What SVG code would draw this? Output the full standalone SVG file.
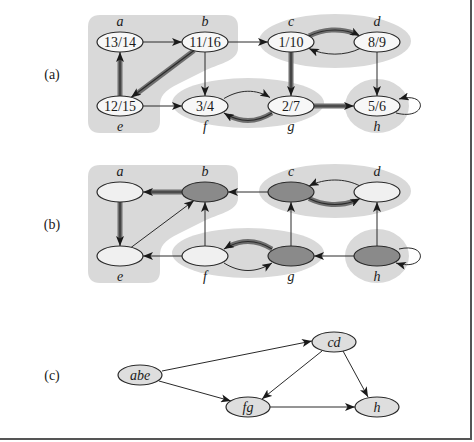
<svg xmlns="http://www.w3.org/2000/svg" width="474" height="442" viewBox="0 0 474 442">
<style>
.reg{fill:#d9d9d9;stroke:none}
.nd{fill:#f7f7f7;stroke:#2a2a2a;stroke-width:1.2}
.dk{fill:#8a8a8a;stroke:#2a2a2a;stroke-width:1.2}
.lt{fill:#f0f0f0;stroke:#2a2a2a;stroke-width:1.2}
.cn{fill:#dedede;stroke:#2a2a2a;stroke-width:1.2}
.t{font-family:"Liberation Serif","Times New Roman",serif;font-size:14px;fill:#1a1a1a;text-anchor:middle}
.it{font-family:"Liberation Serif","Times New Roman",serif;font-style:italic;font-size:14px;fill:#1a1a1a;text-anchor:middle}
.e{fill:none;stroke:#2a2a2a;stroke-width:1;marker-end:url(#ah)}
.h{fill:none;stroke:#6e6e6e;stroke-width:5}
.hi{fill:none;stroke:#2a2a2a;stroke-width:1.2;marker-end:url(#ah)}
</style>
<defs>
<marker id="ah" markerUnits="userSpaceOnUse" viewBox="0 0 10 8" markerWidth="10" markerHeight="8" refX="10" refY="4" orient="auto">
<path d="M0,0 L10,4 L0,8 L2.5,4 Z" fill="#1a1a1a"/>
</marker>
<path id="rabe" d="M100,15 L226,15 Q238,15 238,27 L238,48 C238,60 222,63 206,70 L178,84 C164,91 160,96 160,106 L160,121 Q160,133 148,133 L100,133 Q88,133 88,121 L88,27 Q88,15 100,15 Z"/>
</defs>

<g id="frame"><path d="M471,0 V439 H0" fill="none" stroke="#555" stroke-width="2"/></g>

<!-- panel labels -->
<text class="t" x="52" y="79">(a)</text>
<text class="t" x="52" y="229">(b)</text>
<text class="t" x="52" y="380">(c)</text>

<!-- regions (a) -->
<g id="regions-a">
<use href="#rabe" class="reg"/>
<ellipse class="reg" cx="335" cy="41" rx="76" ry="27"/>
<ellipse class="reg" cx="248" cy="103" rx="76" ry="25"/>
<ellipse class="reg" cx="377" cy="106" rx="32" ry="27"/>
</g>
<!-- regions (b) -->
<g id="regions-b" transform="translate(0,150)">
<use href="#rabe" class="reg"/>
<ellipse class="reg" cx="335" cy="41" rx="76" ry="27"/>
<ellipse class="reg" cx="248" cy="103" rx="76" ry="25"/>
<ellipse class="reg" cx="377" cy="106" rx="32" ry="27"/>
</g>

<!-- connectors (a) -->
<g id="edges-a">
<path class="e" d="M143,42 L182,42"/>
<path class="e" d="M228,42 L268,42"/>
<path class="h" d="M194,50.5 L137,93.5"/>
<path class="hi" d="M194,50.5 L131,97.5"/>
<path class="h" d="M120,96 L120,59"/>
<path class="hi" d="M120,96 L120,52"/>
<path class="e" d="M205,52 L205,96"/>
<path class="e" d="M143,106 L182,106"/>
<path class="e" d="M224,98.5 C240,89 256,89 270,97.5"/>
<path class="h" d="M272,113 C256,123 240,123 224,113" pathLength="100" stroke-dasharray="88 20"/>
<path class="hi" d="M272,113 C256,123 240,123 224,113"/>
<path class="h" d="M309,36 C325,28 345,28 360,36" pathLength="100" stroke-dasharray="88 20"/>
<path class="hi" d="M309,36 C325,28 345,28 360,36"/>
<path class="e" d="M360,48.5 C345,56 325,56 309,48.5"/>
<path class="h" d="M291,52 L291,89"/>
<path class="hi" d="M291,52 L291,96"/>
<path class="e" d="M377,52 L377,96"/>
<path class="h" d="M314,106 L347,106"/>
<path class="hi" d="M314,106 L354,106"/>
<path class="e" d="M396,113 C427,121 429,91 399,99"/>
</g>

<!-- connectors (b) -->
<g id="edges-b">
<path class="h" d="M182,192 L149,192"/>
<path class="hi" d="M182,192 L143,192"/>
<path class="h" d="M120,202 L120,239"/>
<path class="hi" d="M120,202 L120,246"/>
<path class="e" d="M131,247.5 L194,200.5"/>
<path class="e" d="M205,246 L205,202"/>
<path class="e" d="M182,256 L143,256"/>
<path class="e" d="M268,192 L228,192"/>
<path class="e" d="M360,186 C345,178 325,178 309,186"/>
<path class="h" d="M309,198.5 C325,206.5 345,206.5 360,198.5" pathLength="100" stroke-dasharray="88 20"/>
<path class="hi" d="M309,198.5 C325,206.5 345,206.5 360,198.5"/>
<path class="e" d="M291,246 L291,202"/>
<path class="e" d="M377,246 L377,202"/>
<path class="e" d="M354,256 L314,256"/>
<path class="e" d="M399,249 C429,242 427,272 396,263"/>
<path class="h" d="M272,249 C256,239 240,239 224,249" pathLength="100" stroke-dasharray="88 20"/>
<path class="hi" d="M272,249 C256,239 240,239 224,249"/>
<path class="e" d="M224,263 C240,273 256,273 272,263"/>
</g>

<!-- connectors (c) -->
<g id="edges-c">
<path class="e" d="M162,371 L312,341"/>
<path class="e" d="M159,381 L231,401"/>
<path class="e" d="M322,351 L262,399"/>
<path class="e" d="M343,351 L368,397"/>
<path class="e" d="M270,407 L355,407"/>
</g>

<!-- nodes (a) -->
<g id="a-a"><ellipse class="nd" cx="120" cy="42" rx="23" ry="10"/><text class="t" x="120" y="47">13/14</text><text class="it" x="120" y="26">a</text></g>
<g id="a-b"><ellipse class="nd" cx="205" cy="42" rx="23" ry="10"/><text class="t" x="205" y="47">11/16</text><text class="it" x="205" y="26">b</text></g>
<g id="a-c"><ellipse class="nd" cx="291" cy="42" rx="23" ry="10"/><text class="t" x="291" y="47">1/10</text><text class="it" x="291" y="26">c</text></g>
<g id="a-d"><ellipse class="nd" cx="377" cy="42" rx="23" ry="10"/><text class="t" x="377" y="47">8/9</text><text class="it" x="377" y="26">d</text></g>
<g id="a-e"><ellipse class="nd" cx="120" cy="106" rx="23" ry="10"/><text class="t" x="120" y="111">12/15</text><text class="it" x="120" y="131">e</text></g>
<g id="a-f"><ellipse class="nd" cx="205" cy="106" rx="23" ry="10"/><text class="t" x="205" y="111">3/4</text><text class="it" x="205" y="131">f</text></g>
<g id="a-g"><ellipse class="nd" cx="291" cy="106" rx="23" ry="10"/><text class="t" x="291" y="111">2/7</text><text class="it" x="291" y="131">g</text></g>
<g id="a-h"><ellipse class="nd" cx="377" cy="106" rx="23" ry="10"/><text class="t" x="377" y="111">5/6</text><text class="it" x="377" y="131">h</text></g>

<!-- nodes (b) -->
<g id="b-a"><ellipse class="lt" cx="120" cy="192" rx="23" ry="10"/><text class="it" x="120" y="176">a</text></g>
<g id="b-b"><ellipse class="dk" cx="205" cy="192" rx="23" ry="10"/><text class="it" x="205" y="176">b</text></g>
<g id="b-c"><ellipse class="dk" cx="291" cy="192" rx="23" ry="10"/><text class="it" x="291" y="176">c</text></g>
<g id="b-d"><ellipse class="lt" cx="377" cy="192" rx="23" ry="10"/><text class="it" x="377" y="176">d</text></g>
<g id="b-e"><ellipse class="lt" cx="120" cy="256" rx="23" ry="10"/><text class="it" x="120" y="281">e</text></g>
<g id="b-f"><ellipse class="lt" cx="205" cy="256" rx="23" ry="10"/><text class="it" x="205" y="281">f</text></g>
<g id="b-g"><ellipse class="dk" cx="291" cy="256" rx="23" ry="10"/><text class="it" x="291" y="281">g</text></g>
<g id="b-h"><ellipse class="dk" cx="377" cy="256" rx="23" ry="10"/><text class="it" x="377" y="281">h</text></g>

<!-- nodes (c) -->
<g id="c-abe"><ellipse class="cn" cx="140" cy="375" rx="22" ry="10"/><text class="it" x="140" y="380">abe</text></g>
<g id="c-cd"><ellipse class="cn" cx="334" cy="342" rx="22" ry="10"/><text class="it" x="334" y="347">cd</text></g>
<g id="c-fg"><ellipse class="cn" cx="248" cy="407" rx="22" ry="10"/><text class="it" x="248" y="412">fg</text></g>
<g id="c-h"><ellipse class="cn" cx="377" cy="407" rx="22" ry="10"/><text class="it" x="377" y="412">h</text></g>
</svg>
